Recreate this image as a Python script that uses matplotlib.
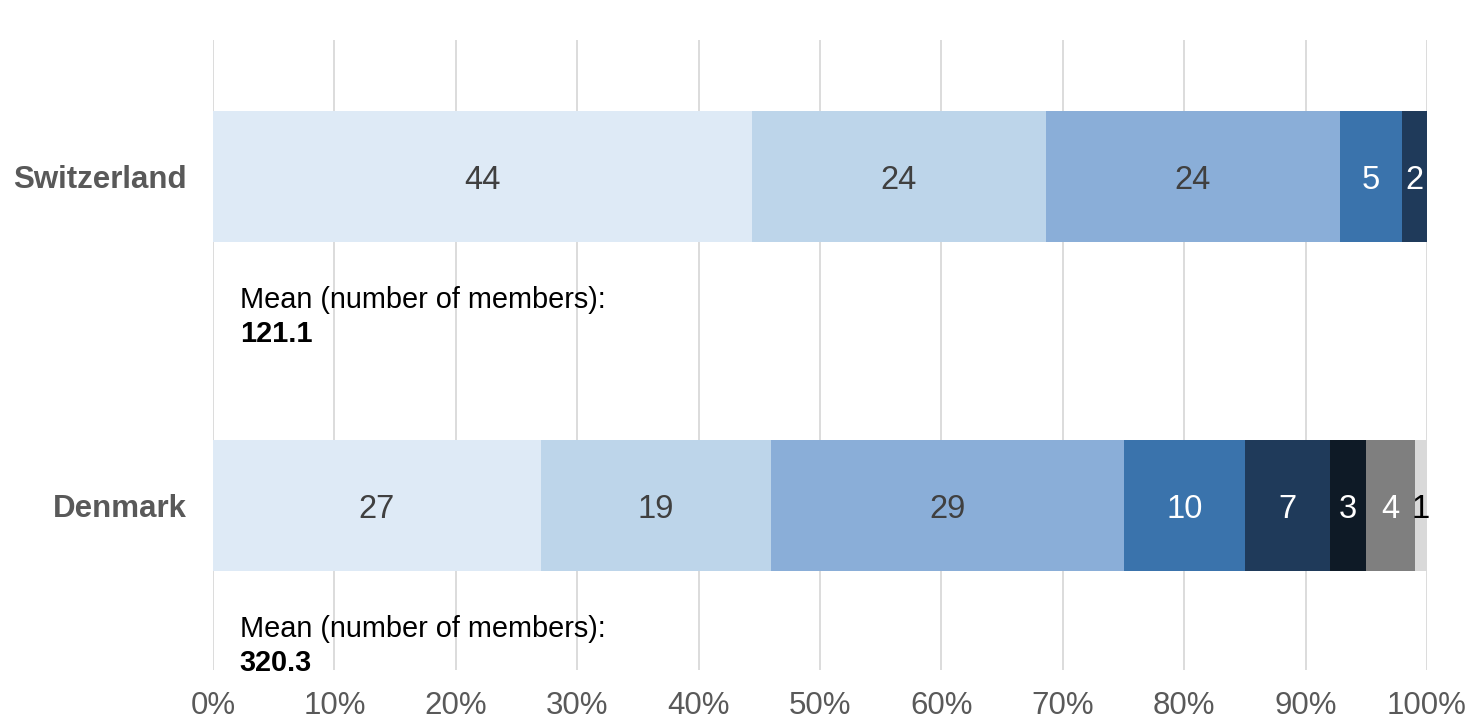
import matplotlib
matplotlib.use("Agg")
import matplotlib.pyplot as plt

countries = ["Switzerland", "Denmark"]
means = ["121.1", "320.3"]
switzerland = [44.4, 24.2, 24.2, 5.1, 2.1]
denmark = [27, 19, 29, 10, 7, 3, 4, 1]
seg_colors = ["#DEEAF6", "#BDD5EA", "#8AAED8", "#3A73AC", "#1F3A5A", "#0E1A26", "#7F7F7F", "#D9D9D9"]
label_colors = ["#404040", "#404040", "#404040", "white", "white", "white", "white", "black"]
xticks = [0, 10, 20, 30, 40, 50, 60, 70, 80, 90, 100]

plt.rcParams['font.family'] = ['Liberation Sans', 'DejaVu Sans']

fig = plt.figure(figsize=(14.7, 7.21), dpi=100)
ax = fig.add_axes([213/1470, 1-670/721, (1427-213)/1470, 630/721])

series = [switzerland, denmark]
for yi, vals in enumerate(series):
    left = 0
    for j, v in enumerate(vals):
        ax.barh(yi, v, left=left, height=0.398, color=seg_colors[j], zorder=2)
        ax.text(left + v/2, yi, f"{v:.0f}", ha="center", va="center_baseline",
                fontsize=23.5, color=label_colors[j], zorder=3)
        left += v
    ax.text(2.2, yi + 0.375, "Mean (number of members):", fontsize=20.8,
            color="black", ha="left", va="center", zorder=3)
    ax.text(2.2, yi + 0.478, means[yi], fontsize=20.8, fontweight="bold",
            color="black", ha="left", va="center", zorder=3)

ax.set_xlim(0, 100)
ax.set_ylim(1.5, -0.415)
ax.set_xticks(xticks)
ax.set_xticklabels([f"{t}%" for t in xticks], fontsize=22.5, color="#595959")
ax.set_yticks([0, 1])
ax.set_yticklabels(countries, fontsize=22.5, fontweight="bold", color="#595959")
ax.tick_params(axis="both", length=0)
ax.tick_params(axis="y", pad=19)
ax.tick_params(axis="x", pad=15)
for s in ax.spines.values():
    s.set_visible(False)
ax.xaxis.grid(True, color="#D9D9D9", linewidth=1.3, zorder=0)
ax.set_axisbelow(True)

fig.savefig("out.png", dpi=100, facecolor="white")
